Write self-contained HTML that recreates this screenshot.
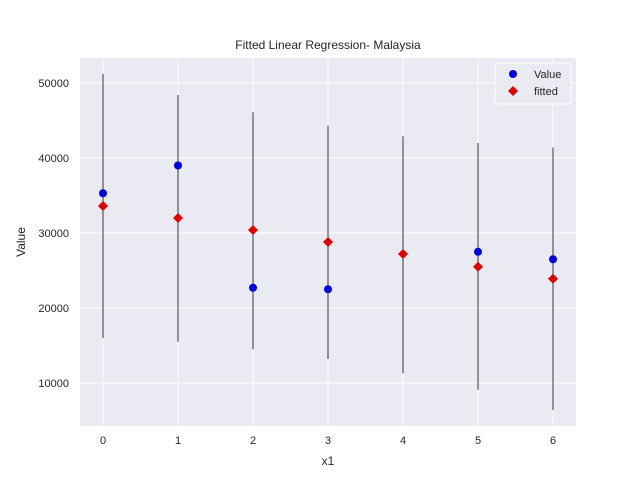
<!DOCTYPE html>
<html><head><meta charset="utf-8"><style>
body{margin:0;background:#fff;font-family:"Liberation Sans","DejaVu Sans",sans-serif;}
</style></head><body>
<svg width="640" height="480" xmlns="http://www.w3.org/2000/svg">
<g id="root"></g>
</svg>
<script>
const xCats=[0,1,2,3,4,5,6];
const values=[35300,39000,22700,22500,null,27500,26500];
const fitted=[33600,32000,30400,28800,27200,25500,23900];
const errLow=[16000,15500,14500,13200,11300,9100,6400];
const errHigh=[51200,48400,46100,44300,42900,42000,41400];
const yTicks=[10000,20000,30000,40000,50000];
const L=80,R=576,T=58,B=426;
const sx=v=>103+v*75;
const sy=v=>383-(v-10000)*0.0075;
const ns="http://www.w3.org/2000/svg";
const root=document.getElementById('root');
function mk(tag,attrs,parent){const e=document.createElementNS(ns,tag);for(const k in attrs)e.setAttribute(k,attrs[k]);(parent||root).appendChild(e);return e;}
const bg=mk('rect',{x:L,y:T,width:R-L,height:B-T,fill:'#eaeaf2'});


yTicks.forEach(t=>{
  const g=mk('line',{x1:L,x2:R,y1:sy(t),y2:sy(t),stroke:'#fff','stroke-width':1});
  
  
  const tx=mk('text',{x:L-11,y:sy(t)+4,'text-anchor':'end','font-size':11,fill:'#262626'});
  tx.textContent=t;
  
  
});
xCats.forEach(c=>{
  const g=mk('line',{x1:sx(c),x2:sx(c),y1:T,y2:B,stroke:'#fff','stroke-width':1});
  
  
  const tx=mk('text',{x:sx(c),y:B+18,'text-anchor':'middle','font-size':11,fill:'#262626'});
  tx.textContent=c;
  
  
});
xCats.forEach((c,i)=>{
  const e=mk('line',{x1:sx(c),x2:sx(c),y1:sy(errHigh[i]),y2:sy(errLow[i]),stroke:'#3a3a3a','stroke-width':1});
  
  
});
xCats.forEach((c,i)=>{
  if(values[i]==null)return;
  const p=mk('circle',{cx:sx(c),cy:sy(values[i]),r:4,fill:'#0000e0'});
  
  
});
xCats.forEach((c,i)=>{
  const x=sx(c),y=sy(fitted[i]);
  const p=mk('polygon',{points:`${x},${y-5} ${x+5},${y} ${x},${y+5} ${x-5},${y}`,fill:'#e00000'});
  
  
});
const ttl=mk('text',{x:(L+R)/2,y:49,'text-anchor':'middle','font-size':12,fill:'#262626'});
ttl.textContent='Fitted Linear Regression- Malaysia';


const xl=mk('text',{x:(L+R)/2,y:465,'text-anchor':'middle','font-size':12,fill:'#262626'});
xl.textContent='x1';


const yl=mk('text',{x:25,y:(T+B)/2,'text-anchor':'middle','font-size':12,fill:'#262626',transform:`rotate(-90 25 ${(T+B)/2})`});
yl.textContent='Value';


const lg=mk('g',{});


mk('rect',{x:495,y:63,width:76,height:41,rx:3,fill:'#eaeaf2',stroke:'#fff'},lg);
const c1=mk('circle',{cx:513,cy:74,r:4,fill:'#0000e0'},lg);


const t1=mk('text',{x:534,y:78,'font-size':11,fill:'#262626'},lg);
t1.textContent='Value';


const d2=mk('polygon',{points:'513,86 518,91 513,96 508,91',fill:'#e00000'},lg);


const t2=mk('text',{x:534,y:95,'font-size':11,fill:'#262626'},lg);
t2.textContent='fitted';


</script>
</body></html>
